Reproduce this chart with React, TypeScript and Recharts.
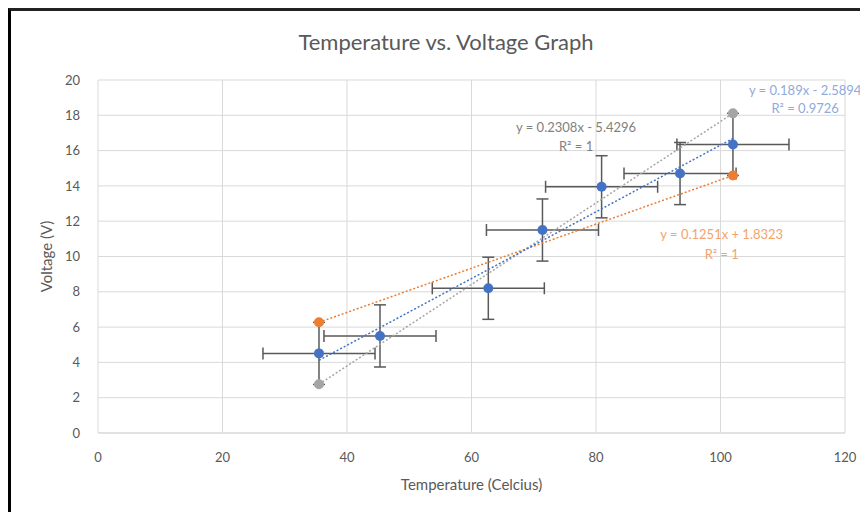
import React from 'react';
import {
  ScatterChart,
  Scatter,
  XAxis,
  YAxis,
  CartesianGrid,
  ErrorBar,
  ReferenceDot,
} from 'recharts';

// ---- data ----
const temperature = [35.5, 45.3, 62.7, 71.4, 80.9, 93.5, 102];
const voltage = [4.51, 5.5, 8.2, 11.5, 13.95, 14.7, 16.35];
const temperatureError = [9, 9, 9, 9, 9, 9, 9];
const voltageError = [1.76, 1.76, 1.76, 1.76, 1.76, 1.76, 1.76];

const minSlopeX = [35.5, 102];
const minSlopeY = [6.27, 14.59];
const maxSlopeX = [35.5, 102];
const maxSlopeY = [2.76, 18.11];

// best-fit trendline as printed on the chart: y = 0.189x - 2.5894
const fitSlope = 0.189;
const fitIntercept = -2.5894;

const xTicks = [0, 20, 40, 60, 80, 100, 120];
const yTicks = [0, 2, 4, 6, 8, 10, 12, 14, 16, 18, 20];

const fitLabel = ['y = 0.189x - 2.5894', 'R² = 0.9726'];
const maxLabel = ['y = 0.2308x - 5.4296', 'R² = 1'];
const minLabel = ['y = 0.1251x + 1.8323', 'R² = 1'];

// ---- derived tables ----
const mainData = temperature.map((t, i) => ({
  x: t,
  y: voltage[i],
  xErr: temperatureError[i],
  yErr: voltageError[i],
}));
const minData = minSlopeX.map((x, i) => ({ x, y: minSlopeY[i] }));
const maxData = maxSlopeX.map((x, i) => ({ x, y: maxSlopeY[i] }));
const fitX = [Math.min(...temperature), Math.max(...temperature)];
const fitData = fitX.map((x) => ({ x, y: fitSlope * x + fitIntercept }));

// annotation anchors (data coordinates)
const fitLabelPos = [
  { x: 113.6, y: 19.43 },
  { x: 113.6, y: 18.41 },
];
const maxLabelPos = [
  { x: 76.8, y: 17.34 },
  { x: 76.8, y: 16.26 },
];
const minLabelPos = [
  { x: 100.2, y: 11.27 },
  { x: 100.2, y: 10.14 },
];

const FONT = 'Lato, "Open Sans", sans-serif';
const BLUE = '#4472C4';
const ORANGE = '#ED7D31';
const GRAY = '#A5A5A5';
const TEXT = '#595959';

const dot = (color: string) => (props: any) => (
  <circle cx={props.cx} cy={props.cy} r={5} fill={color} stroke="none" />
);
const noDot = () => <g />;

const labelDots = (
  lines: string[],
  pos: { x: number; y: number }[],
  color: string,
  key: string
) =>
  lines.map((txt, i) => (
    <ReferenceDot
      key={key + i}
      x={pos[i].x}
      y={pos[i].y}
      r={1}
      fill="none"
      stroke="none"
      ifOverflow="visible"
      label={{
        value: txt,
        position: 'center',
        fill: color,
        fontSize: 13,
        fontFamily: FONT,
      }}
    />
  ));

export default function App() {
  return (
    <div style={{ position: 'relative', width: 860, height: 504, fontFamily: FONT }}>
      <div
        style={{
          position: 'absolute',
          left: 0,
          top: 0,
          width: 860,
          height: 504,
          borderTop: '3px solid #222',
          borderLeft: '3px solid #000',
          boxSizing: 'border-box',
          pointerEvents: 'none',
        }}
      />
      <div
        style={{
          position: 'absolute',
          left: 0,
          top: 20,
          width: 876,
          textAlign: 'center',
          fontSize: 22,
          color: TEXT,
          fontFamily: FONT,
        }}
      >
        Temperature vs. Voltage Graph
      </div>
      <ScatterChart
        width={860}
        height={504}
        margin={{ top: 72, right: 23, left: 30, bottom: 19 }}
      >
        <CartesianGrid stroke="#D9D9D9" strokeWidth={1} />
        <XAxis
          type="number"
          dataKey="x"
          domain={[0, 120]}
          ticks={xTicks}
          interval={0}
          height={60}
          axisLine={{ stroke: '#D9D9D9' }}
          tickLine={false}
          tickMargin={14}
          tick={{ fill: TEXT, fontSize: 13, fontFamily: FONT }}
          label={{
            value: 'Temperature (Celcius)',
            position: 'insideBottom',
            offset: 3,
            fill: TEXT,
            fontSize: 15,
            fontFamily: FONT,
          }}
        />
        <YAxis
          type="number"
          dataKey="y"
          domain={[0, 20]}
          ticks={yTicks}
          interval={0}
          width={60}
          axisLine={false}
          tickLine={false}
          tickMargin={12}
          tick={{ fill: TEXT, fontSize: 13, fontFamily: FONT }}
          label={{
            value: 'Voltage (V)',
            angle: -90,
            position: 'insideLeft',
            offset: 9,
            fill: TEXT,
            fontSize: 15,
            fontFamily: FONT,
            style: { textAnchor: 'middle' },
          }}
        />
        <Scatter
          data={minData}
          isAnimationActive={false}
          line={{ stroke: ORANGE, strokeWidth: 1.5, strokeDasharray: '2 2' }}
          shape={noDot}
          legendType="none"
        />
        <Scatter
          data={maxData}
          isAnimationActive={false}
          line={{ stroke: GRAY, strokeWidth: 1.5, strokeDasharray: '2 2' }}
          shape={noDot}
          legendType="none"
        />
        <Scatter
          data={fitData}
          isAnimationActive={false}
          line={{ stroke: BLUE, strokeWidth: 1.5, strokeDasharray: '2 2' }}
          shape={noDot}
          legendType="none"
        />
        <Scatter data={minData} isAnimationActive={false} shape={dot(ORANGE)} />
        <Scatter data={maxData} isAnimationActive={false} shape={dot(GRAY)} />
        <Scatter data={mainData} isAnimationActive={false} shape={dot(BLUE)}>
          <ErrorBar dataKey="xErr" direction="x" width={6} stroke="#595959" strokeWidth={1.5} />
          <ErrorBar dataKey="yErr" direction="y" width={6} stroke="#595959" strokeWidth={1.5} />
        </Scatter>
        {labelDots(fitLabel, fitLabelPos, '#8FAADC', 'fit')}
        {labelDots(maxLabel, maxLabelPos, '#7F7F7F', 'max')}
        {labelDots(minLabel, minLabelPos, '#F4A36C', 'min')}
      </ScatterChart>
    </div>
  );
}
